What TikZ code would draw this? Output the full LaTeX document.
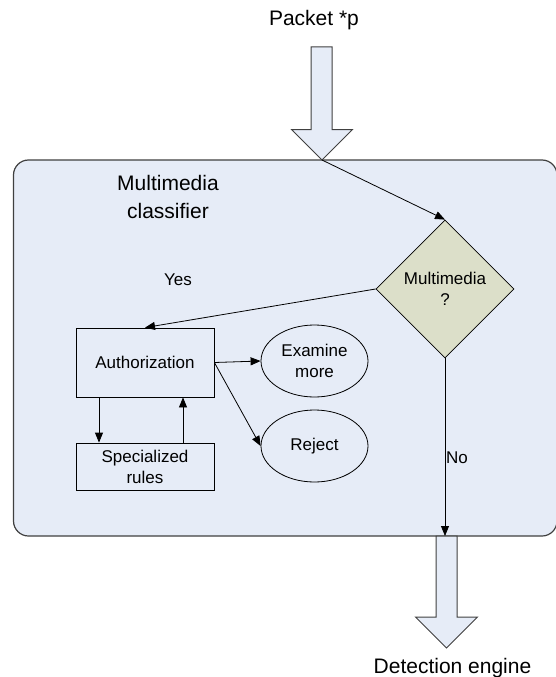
\documentclass[tikz,border=0pt]{standalone}
\usepackage{fontspec}
\setmainfont{Liberation Sans}
\usetikzlibrary{shapes.geometric,arrows.meta}
\definecolor{boxfill}{HTML}{E6ECF7}
\definecolor{diafill}{HTML}{DCDFC9}
\definecolor{edgegray}{HTML}{404040}
\begin{document}
\begin{tikzpicture}[x=1pt,y=-1pt,
  small/.style={font=\fontsize{17}{21}\selectfont},
  big/.style={font=\fontsize{21}{28}\selectfont},
  arr/.style={-{Triangle[length=10pt,width=8pt]}, draw=black, line width=0.8pt},
  rectbox/.style={draw=black, line width=0.8pt, fill=boxfill, minimum width=138pt, inner sep=0pt, align=center, small},
  ellbox/.style={ellipse, draw=black, line width=0.8pt, fill=boxfill, minimum width=107pt, minimum height=72pt, inner sep=0pt, align=center, small},
  fatarrow/.style={draw=edgegray, line width=1pt, fill=boxfill}
]
\useasboundingbox (0,0) rectangle (555,677);
% container
\node[draw=edgegray, line width=1.2pt, fill=boxfill, rounded corners=15pt,
      minimum width=543.5pt, minimum height=376pt, inner sep=0pt] (clf) at (285.25,348) {};
\node[big, align=center] (title) at (168,196.5) {Multimedia\\classifier};
% incoming packet arrow
\draw[fatarrow] (311,47) -- (332,47) -- (332,129.5) -- (352.5,129.5) -- (322,160)
  -- (291.5,129.5) -- (311,129.5) -- cycle;
\coordinate (ptip) at (322,160);
\node[big, anchor=base] (packet) at (314,26) {Packet *p};
% decision
\node[diamond, draw=black, line width=0.8pt, fill=diafill, minimum width=138pt,
      minimum height=138pt, inner sep=0pt, align=center, small] (mm) at (445,289) {Multimedia\\?};
% boxes
\node[rectbox, minimum height=69pt] (auth) at (145,362.5) {Authorization};
\node[rectbox, minimum height=47pt] (spec) at (145,466.5) {Specialized\\rules};
\node[ellbox] (exam) at (314.5,361) {Examine\\more};
\node[ellbox] (rej) at (314.5,446) {Reject};
% outgoing arrow
\draw[fatarrow] (436,536) -- (457,536) -- (457,617) -- (477.5,617) -- (446.5,648)
  -- (415.5,617) -- (436,617) -- cycle;
\node[big, anchor=base] (det) at (452.5,673) {Detection engine};
% connectors
\draw[arr] (ptip) -- (mm.north);
\draw[arr] (mm.west) -- (auth.north);
\draw[arr] (auth.east) -- (exam.west);
\draw[arr] (auth.east) -- (rej.west);
\draw[arr] ([xshift=-46pt]auth.south) -- ([xshift=-46pt]spec.north);
\draw[arr] ([xshift=38pt]spec.north) -- ([xshift=38pt]auth.south);
\coordinate (nobottom) at (445,536);
\draw[arr] (mm.south) -- (nobottom);
% labels
\node[small] (yes) at (178,280) {Yes};
\node[small, anchor=west, inner sep=0pt] (no) at (446,458) {No};
\end{tikzpicture}
\end{document}
